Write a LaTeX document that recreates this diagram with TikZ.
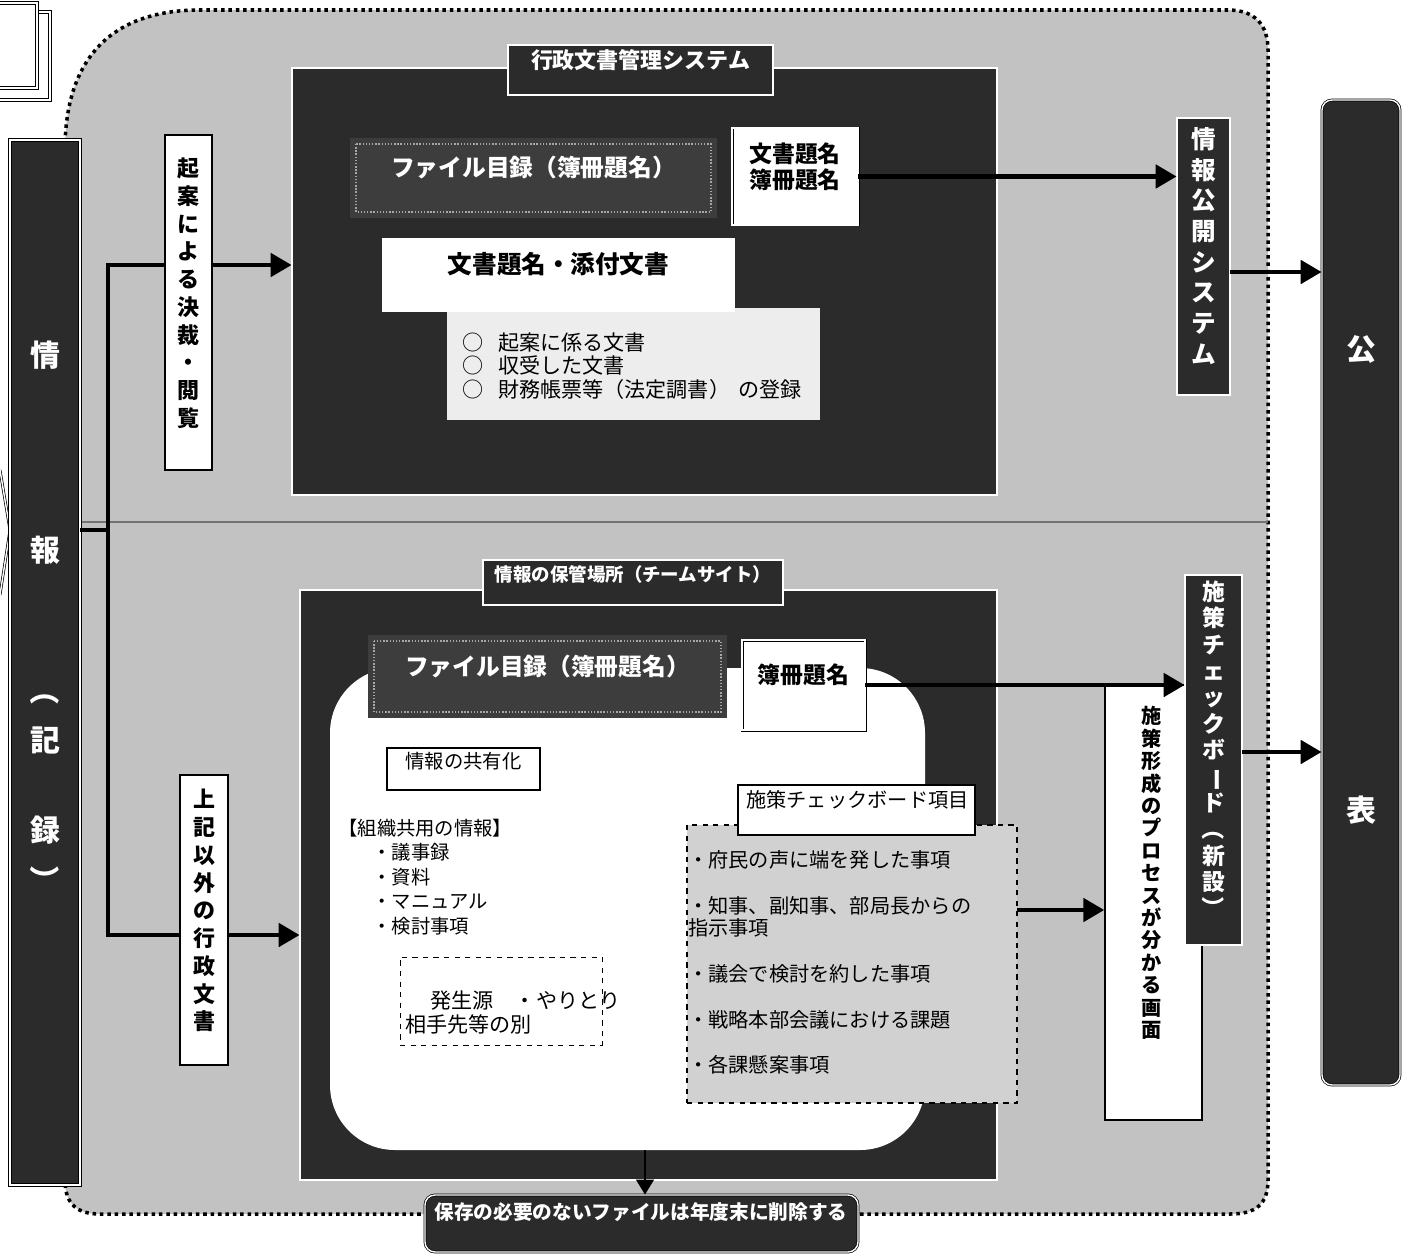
\documentclass[tikz,border=0pt]{standalone}
\usepackage{fontspec}
\usepackage{graphicx}
\setmainfont{Noto Sans CJK JP}
\usetikzlibrary{arrows.meta,fit,calc}
\definecolor{bggray}{gray}{0.76}
\definecolor{dkfill}{gray}{0.17}
\definecolor{mdfill}{gray}{0.24}
\definecolor{ltfill}{gray}{0.93}
\definecolor{dshfill}{gray}{0.82}
\newcommand{\vop}{\rotatebox[origin=c]{-90}{（}}
\newcommand{\vcl}{\rotatebox[origin=c]{-90}{）}}
\newcommand{\vbar}{\rotatebox[origin=c]{-90}{ー}}
\tikzset{
  dk/.style={draw=black, line width=0.4pt, double=white, double distance=0.8pt, fill=dkfill, inner sep=0pt, text=white},
  wbox/.style={draw=black, line width=0.8pt, fill=white, inner sep=0pt},
  wdbl/.style={draw=black, line width=0.4pt, double=white, double distance=0.9pt, fill=white, inner sep=0pt},
  filebox/.style={fill=mdfill, draw=none, inner sep=0pt, text=white},
  fdot/.style={draw=gray!70, densely dotted, line width=0.8pt},
  conn/.style={line width=1.8pt},
  arr/.style={line width=2.8pt, -{Triangle[length=0.42cm,width=0.46cm]}},
  lbl/.style={inner sep=0pt}
}
\begin{document}
\begin{tikzpicture}[x=0.02cm,y=-0.02cm]
\useasboundingbox (0,0) rectangle (1406,1254);
\fill[white] (0,0) rectangle (1406,1254);

% partial box at top-left corner
\draw[draw=black, line width=0.6pt, double=white, double distance=1.2pt, fill=white] (-8,12) rectangle (50,100);
\draw[draw=black, line width=0.6pt, double=white, double distance=1.2pt, fill=white] (-8,3) rectangle (37,88);

% gray region with dotted border
\path[fill=bggray, draw=black, line width=2pt, dash pattern=on 2pt off 2.2pt]
  (65,150) .. controls (65,60) and (110,10) .. (200,10) -- (1228,10)
  .. controls (1255,10) and (1268,25) .. (1268,50) -- (1268,1180)
  .. controls (1268,1205) and (1255,1214) .. (1230,1214) -- (100,1214)
  .. controls (78,1214) and (65,1205) .. (65,1180) -- cycle;
\draw[black!55, line width=0.7pt] (80,522) -- (1268,522);

% partial shape at left edge
\draw[line width=0.4pt, double=white, double distance=0.8pt] (0,470) -- (10,530) -- (0,595);

% left column
\node[dk, line width=0.6pt, double distance=1.2pt, fit={(10,140) (80,1185)}] (joho) {};
\foreach \c/\y [count=\i] in {情/355, 報/550, \vop/690, 記/740, 録/830, \vcl/880}
  \node[lbl, text=white, font=\fontsize{17}{17}\selectfont\bfseries] (jc\i) at (45,\y) {\c};

% vertical boxes on the left
\node[wbox, fit={(165,135) (212,470)}, align=center, font=\fontsize{12.5}{15.8}\selectfont\bfseries] (kian)
  {起\\案\\に\\よ\\る\\決\\裁\\・\\閲\\覧};
\node[wbox, fit={(180,775) (228,1065)}, align=center, font=\fontsize{12.5}{15.8}\selectfont\bfseries] (joki)
  {上\\記\\以\\外\\の\\行\\政\\文\\書};

% top panel
\node[dk, fit={(292,68) (997,495)}] (top) {};
\node[dk, fit={(508,45) (773,95)}, font=\fontsize{12.5}{14}\selectfont\bfseries] (toptitle) {行政文書管理システム};
\node[filebox, fit={(350,138) (717,218)}, font=\fontsize{13.5}{15}\selectfont\bfseries] (file1) {ファイル目録（簿冊題名）};
\draw[fdot] (356,144) rectangle (711,212);
\node[wdbl, fit={(732,128) (858,225)}, align=center, font=\fontsize{13}{15}\selectfont\bfseries] (bunsho) {文書題名\\簿冊題名};
\node[fill=ltfill, inner sep=0pt, fit={(447,308) (820,420)}] (list) {};
\node[lbl, anchor=west, align=left, font=\fontsize{12}{13.3}\selectfont] (listt) at (462,366)
  {○\hspace{0.7em}起案に係る文書\\○\hspace{0.7em}収受した文書\\○\hspace{0.7em}財務帳票等（法定調書）\hspace{0.4em}の登録};
\node[fill=white, inner sep=0pt, fit={(382,238) (735,312)}, font=\fontsize{14}{16}\selectfont\bfseries] (tenpu) {文書題名・添付文書};

% information disclosure system
\node[dk, fit={(1177,118) (1230,395)}, align=center, font=\fontsize{14}{17.5}\selectfont\bfseries] (kokai)
  {情\\報\\公\\開\\シ\\ス\\テ\\ム};

% publication column
\node[dk, rounded corners=0.2cm, fit={(1322,100) (1400,1085)}] (kohyo) {};
\node[lbl, text=white, font=\fontsize{17}{17}\selectfont\bfseries] (ko1) at (1361,350) {公};
\node[lbl, text=white, font=\fontsize{17}{17}\selectfont\bfseries] (ko2) at (1361,810) {表};

% lower panel
\node[dk, fit={(300,590) (997,1180)}] (low) {};
\node[fill=white, rounded corners=1.3cm, inner sep=0pt, fit={(330,668) (925,1150)}] (wreg) {};
\node[dk, fit={(483,560) (783,605)}, font=\fontsize{10.5}{12}\selectfont\bfseries] (lowtitle) {情報の保管場所（チームサイト）};
\node[filebox, fit={(368,635) (727,718)}, font=\fontsize{13.5}{15}\selectfont\bfseries] (file2) {ファイル目録（簿冊題名）};
\draw[fdot] (374,641) rectangle (721,712);
\node[wdbl, fit={(742,640) (865,730)}, font=\fontsize{13}{15}\selectfont\bfseries] (boshu) {簿冊題名};

\node[wbox, line width=0.6pt, fit={(387,748) (540,790)}, font=\fontsize{11}{13}\selectfont] (kyoyu) {情報の共有化};
\node[lbl, anchor=west, font=\fontsize{11}{14}\selectfont] (soshiki) at (338,828) {【組織共用の情報】};
\node[lbl, anchor=north west, align=left, font=\fontsize{11}{14}\selectfont] (items1) at (372,843)
  {・議事録\\・資料\\・マニュアル\\・検討事項};
\node[draw, dashed, line width=0.5pt, fill=white, inner sep=0pt, fit={(400,957) (602,1045)}] (hassei) {};
\node[lbl, anchor=north west, align=left, font=\fontsize{12}{14}\selectfont] (hasseit) at (405,990)
  {\hspace{1.2em}発生源\hspace{1em}・やりとり\\相手先等の別};

\node[draw, dashed, line width=0.6pt, fill=dshfill, inner sep=0pt, fit={(687,825) (1017,1103)}] (cbitems) {};
\node[wbox, fit={(738,785) (975,835)}] (cblabel) {};
\node[lbl, anchor=west, font=\fontsize{11.5}{13}\selectfont] (cblabelt) at (746,800) {施策チェックボード項目};
\node[lbl, anchor=west, font=\fontsize{11.5}{13}\selectfont] (cb1) at (688,860) {・府民の声に端を発した事項};
\node[lbl, anchor=west, align=left, font=\fontsize{11.5}{12.6}\selectfont] (cb2) at (688,917) {・知事、副知事、部局長からの\\指示事項};
\node[lbl, anchor=west, font=\fontsize{11.5}{13}\selectfont] (cb3) at (688,974) {・議会で検討を約した事項};
\node[lbl, anchor=west, font=\fontsize{11.5}{13}\selectfont] (cb4) at (688,1020) {・戦略本部会議における課題};
\node[lbl, anchor=west, font=\fontsize{11.5}{13}\selectfont] (cb5) at (688,1065) {・各課懸案事項};

% policy formation screen and check board
\node[wbox, fit={(1105,685) (1202,1120)}] (shisaku) {};
\node[lbl, align=center, font=\fontsize{11.5}{12.75}\selectfont\bfseries] (shisakut) at (1152,873)
  {施\\策\\形\\成\\の\\プ\\ロ\\セ\\ス\\が\\分\\か\\る\\画\\面};
\node[dk, fit={(1185,575) (1242,945)}, align=center, font=\fontsize{13}{15}\selectfont\bfseries] (check)
  {施\\策\\チ\\ェ\\ッ\\ク\\ボ\\\vbar\\ド\\\vop\\新\\設\\\vcl};

% bottom box
\node[dk, rounded corners=0.2cm, fit={(425,1195) (858,1252)}] (sakujo) {};
\node[lbl, text=white, font=\fontsize{11.2}{12}\selectfont\bfseries] (sakujot) at (641,1212) {保存の必要のないファイルは年度末に削除する};

% connectors
\coordinate (ja) at (80,530);
\coordinate (jb) at (108,530);
\coordinate (ka) at (165,265);
\coordinate (kb) at (180,935);
\draw[conn] (ja) -- (jb);
\draw[conn] (ka) -| (jb) |- (kb);
\draw[arr] (ka -| kian.east) -- (ka -| top.west);
\draw[arr] (kb -| joki.east) -- (kb -| low.west);
\draw[arr] (bunsho.east) -- (bunsho.east -| kokai.west);
\coordinate (r1) at (1230,272);
\draw[arr] (r1) -- (r1 -| kohyo.west);
\draw[arr] (boshu.east) -- (boshu.east -| check.west);
\coordinate (r2) at (1242,752);
\draw[arr] (r2) -- (r2 -| kohyo.west);
\coordinate (r3) at (1017,910);
\draw[arr] (r3) -- (r3 -| shisaku.west);
\coordinate (r4) at (645,1150);
\draw[line width=1.5pt, -{Triangle[length=0.3cm,width=0.35cm]}] (r4) -- (r4 |- sakujo.north);
\end{tikzpicture}
\end{document}
